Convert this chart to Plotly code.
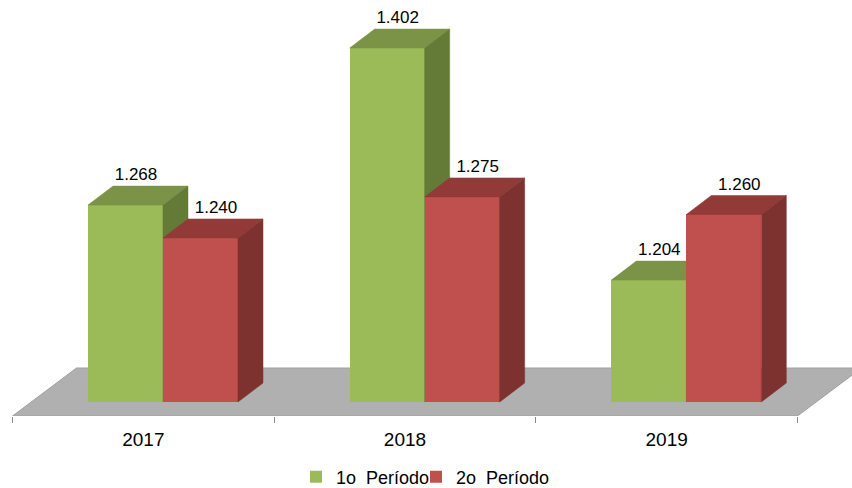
import plotly.graph_objects as go

years = ["2017", "2018", "2019"]
periodo1 = [1268, 1402, 1204]
periodo2 = [1240, 1275, 1260]
labels1 = ["1.268", "1.402", "1.204"]
labels2 = ["1.240", "1.275", "1.260"]
names = ["1o\u00a0\u00a0Período", "2o\u00a0\u00a0Período"]

BASE = 1100
PXX = 261.67
PXY = 1.172
BAR_W = 75 / PXX
DX = 25 / PXX
DY = 19 / PXY
X0 = -12.5 / PXX
X1 = 3 + 54.5 / PXX
Y0 = BASE - 14 / PXY
Y1 = BASE + 402 / PXY
centers = [0.5, 1.5, 2.5]
OFF1 = -0.2115
OFF2 = OFF1 + BAR_W


def faces(vals, off):
    tx, ty, sx, sy = [], [], [], []
    for c, v in zip(centers, vals):
        l, r = c + off, c + off + BAR_W
        tx += [l, r, r + DX, l + DX, l, None]
        ty += [v, v, v + DY, v + DY, v, None]
        sx += [r, r + DX, r + DX, r, r, None]
        sy += [v, v + DY, BASE + DY, BASE, v, None]
    return tx, ty, sx, sy


def poly(x, y, color, xa, ya):
    return go.Scatter(x=x, y=y, mode="lines", fill="toself", fillcolor=color,
                      line=dict(color=color, width=0.5), hoverinfo="skip",
                      showlegend=False, xaxis=xa, yaxis=ya)


fig = go.Figure()
t1x, t1y, s1x, s1y = faces(periodo1, OFF1)
t2x, t2y, s2x, s2y = faces(periodo2, OFF2)

fig.add_trace(go.Bar(x=centers, y=[v - BASE for v in periodo1], base=BASE, width=BAR_W, offset=OFF1,
                     name=names[0], legend="legend", marker=dict(color="#9bbb59", line=dict(width=0)),
                     xaxis="x", yaxis="y"))
fig.add_trace(poly(t1x, t1y, "#7a9346", "x", "y"))
fig.add_trace(poly(s1x, s1y, "#647a37", "x", "y"))
fig.add_trace(go.Bar(x=centers, y=[v - BASE for v in periodo2], base=BASE, width=BAR_W, offset=OFF2,
                     name=names[1], legend="legend2", marker=dict(color="#c0504d", line=dict(width=0)),
                     xaxis="x2", yaxis="y2"))
fig.add_trace(poly(t2x, t2y, "#923a38", "x2", "y2"))
fig.add_trace(poly(s2x, s2y, "#7d3230", "x2", "y2"))

LABEL_DY = 10 / PXY
fig.add_trace(go.Scatter(
    x=[c + OFF1 + BAR_W / 2 + 10.5 / PXX for c in centers] + [c + OFF2 + BAR_W / 2 + 15.5 / PXX for c in centers],
    y=[v + DY + LABEL_DY for v in periodo1 + periodo2],
    text=labels1 + labels2, mode="text", textposition="middle center",
    textfont=dict(family="Liberation Sans", size=17, color="#000000"),
    hoverinfo="skip", showlegend=False, xaxis="x2", yaxis="y2"))

floor_dx = 64 / PXX
floor_dy = 48 / PXY
fig.add_shape(type="path", layer="below", xref="x", yref="y",
              path=f"M 0 {Y0} L {3} {Y0} L {3 + floor_dx} {Y0 + floor_dy} L {floor_dx} {Y0 + floor_dy} Z",
              fillcolor="#b0b0b0", line=dict(color="#a0a0a0", width=1))

legend_font = dict(family="Liberation Sans", size=18, color="#000000")
LEG_Y = -61 / 416
fig.update_layout(
    width=852, height=488,
    margin=dict(l=0, r=0, t=0, b=72, pad=0, autoexpand=False),
    paper_bgcolor="white", plot_bgcolor="white",
    bargap=0,
    xaxis=dict(range=[X0, X1], domain=[0, 1], tickmode="array", tickvals=centers, ticktext=years,
               ticks="outside", ticklen=6, tickcolor="rgba(0,0,0,0)", ticklabelstandoff=0,
               tickfont=dict(family="Liberation Sans", size=19, color="#000000"),
               showgrid=False, zeroline=False, showline=False,
               minor=dict(tickmode="array", tickvals=[0, 1, 2, 3], ticks="outside", ticklen=6,
                          tickcolor="#8c8c8c", tickwidth=1, showgrid=False)),
    yaxis=dict(range=[Y0, Y1], visible=False, showgrid=False, zeroline=False),
    xaxis2=dict(range=[X0, X1], overlaying="x", visible=False, showgrid=False, zeroline=False),
    yaxis2=dict(range=[Y0, Y1], overlaying="y", visible=False, showgrid=False, zeroline=False),
    legend=dict(orientation="h", x=296 / 852, xanchor="left", y=LEG_Y, yanchor="middle",
                font=legend_font, bgcolor="rgba(0,0,0,0)"),
    legend2=dict(orientation="h", x=416 / 852, xanchor="left", y=LEG_Y, yanchor="middle",
                 font=legend_font, bgcolor="rgba(0,0,0,0)"),
    showlegend=True,
)
fig.write_html("out.html", post_script="document.body.style.margin='0';",
               config=dict(displayModeBar=False))
